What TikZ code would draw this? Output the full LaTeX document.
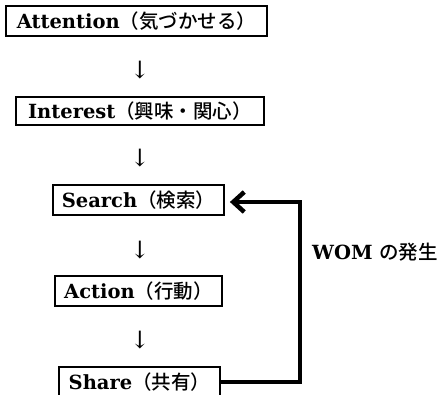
\documentclass[tikz,border=0pt]{standalone}
\usepackage{fontspec}
\setmainfont{DejaVu Serif}
\newfontfamily\jp{Noto Sans CJK JP Medium}
\newfontfamily\sym{DejaVu Serif}
\usetikzlibrary{arrows.meta}
\newcommand\J[1]{{\jp\mdseries #1}}
\begin{document}
\begin{tikzpicture}[x=1pt,y=-1pt,
  box/.style={draw, line width=1.8pt, inner sep=0pt, font=\bfseries\fontsize{19.5}{24}\selectfont},
  down/.style={inner sep=0pt, font=\sym\fontsize{24}{28}\selectfont},
  lab/.style={inner sep=0pt, font=\bfseries\fontsize{19.5}{24}\selectfont},
  fb/.style={line width=4.5pt, line join=miter, -{Straight Barb[length=11pt,width=20pt]}}]
\useasboundingbox (0,0) rectangle (441,394);
\clip (0,0) rectangle (441,394);
\node[box, minimum width=261pt, minimum height=30pt] (att) at (136.5,21) {Attention\J{（気づかせる）}};
\node[down] (d1) at (140,70) {↓};
\node[box, minimum width=248pt, minimum height=28pt] (int) at (140,111) {Interest\J{（興味・関心）}};
\node[down] (d2) at (140,158) {↓};
\node[box, minimum width=171pt, minimum height=30pt] (sea) at (138.5,200) {Search\J{（検索）}};
\node[down] (d3) at (140,250) {↓};
\node[box, minimum width=167pt, minimum height=30pt] (act) at (138.5,291) {Action\J{（行動）}};
\node[down] (d4) at (140,340) {↓};
\node[box, minimum width=161pt, minimum height=30pt] (sha) at (139.5,382) {Share\J{（共有）}};
\node[lab, anchor=west] (wom) at (312,252) {WOM \J{の発生}};
\coordinate (c1) at (300,382);
\coordinate (c2) at (300,202);
\draw[fb] (sha.east) -- (c1) -- (c2) -- ([xshift=5pt,yshift=-2pt]sea.east);
\end{tikzpicture}
\end{document}
